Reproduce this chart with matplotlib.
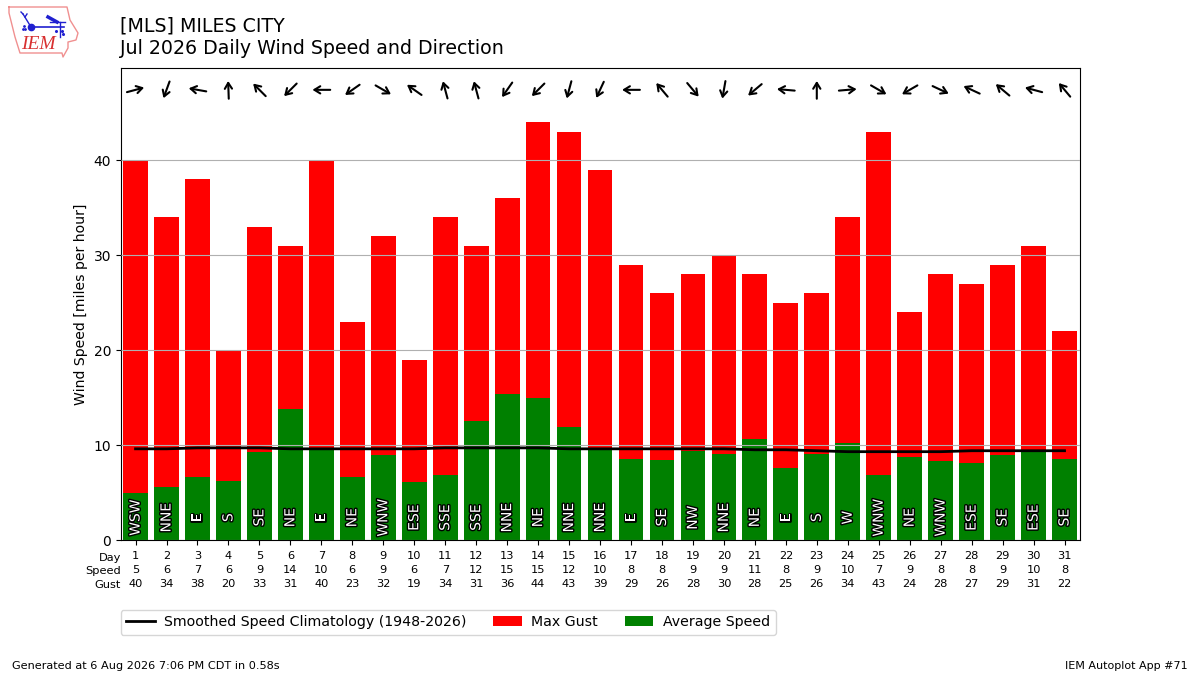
import math
import matplotlib
matplotlib.use("Agg")
import matplotlib.pyplot as plt
import matplotlib.patheffects as PathEffects
from matplotlib.transforms import offset_copy

days = list(range(1, 32))
avg_label = [5, 6, 7, 6, 9, 14, 10, 6, 9, 6, 7, 12, 15, 15, 12, 10, 8, 8, 9, 9, 11, 8, 9, 10, 7, 9, 8, 8, 9, 10, 8]
avg_speed = [4.9, 5.6, 6.6, 6.2, 9.3, 13.8, 9.7, 6.6, 8.9, 6.1, 6.8, 12.5, 15.4, 15.0, 11.9, 9.7,
             8.5, 8.4, 9.4, 9.1, 10.6, 7.6, 9.1, 10.2, 6.8, 8.7, 8.3, 8.1, 8.9, 9.5, 8.5]
max_gust = [40, 34, 38, 20, 33, 31, 40, 23, 32, 19, 34, 31, 36, 44, 43, 39,
            29, 26, 28, 30, 28, 25, 26, 34, 43, 24, 28, 27, 29, 31, 22]
dir_text = ["WSW", "NNE", "E", "S", "SE", "NE", "E", "NE", "WNW", "ESE", "SSE", "SSE", "NNE", "NE", "NNE", "NNE",
            "E", "SE", "NW", "NNE", "NE", "E", "S", "W", "WNW", "NE", "WNW", "ESE", "SE", "ESE", "SE"]
dir_deg = [255, 20, 100, 178, 135, 45, 90, 55, 300, 125, 165, 165, 35, 45, 15, 25,
           90, 140, 320, 10, 50, 95, 180, 265, 300, 60, 295, 115, 130, 105, 140]
climo = [9.6, 9.6, 9.7, 9.7, 9.7, 9.6, 9.6, 9.6, 9.6, 9.6, 9.7, 9.7, 9.7, 9.7, 9.6, 9.6,
         9.6, 9.6, 9.6, 9.6, 9.5, 9.5, 9.4, 9.3, 9.3, 9.3, 9.3, 9.4, 9.4, 9.4, 9.4]

# iowa outline for the logo, in logo pixels
logo_outline_x = [9, 67, 70, 78, 76, 68, 68, 63, 62, 20, 15, 9, 9]
logo_outline_y = [7, 7, 20, 33, 40, 42, 48, 57, 53, 53, 37, 13, 7]

fig = plt.figure(figsize=(12, 6.75), dpi=100)
ax = fig.add_axes([121 / 1200, 1 - 540 / 675, 959 / 1200, 472 / 675])

ax.bar(days, max_gust, width=0.8, color="r", label="Max Gust")
ax.bar(days, avg_speed, width=0.8, color="g", label="Average Speed")
ax.plot(days, climo, color="k", lw=2, label="Smoothed Speed Climatology (1948-2026)", zorder=5)
ax.grid(axis="y", color="#b0b0b0")
ax.set_axisbelow(False)

ax.set_xlim(0.53, 31.5)
ax.set_ylim(0, 49.7)

half_len = 6.4  # points
for d, txt, deg in zip(days, dir_text, dir_deg):
    t = ax.text(d, 2.35, txt, rotation=90, ha="center", va="center", color="white", fontsize=10, zorder=6)
    t.set_path_effects([PathEffects.withStroke(linewidth=2, foreground="black")])
    # arrow points the way the wind blows
    ang = math.radians(270 - deg)
    dx, dy = half_len * math.cos(ang), half_len * math.sin(ang)
    tip = offset_copy(ax.transData, fig, x=dx, y=dy, units="points")
    tail = offset_copy(ax.transData, fig, x=-dx, y=-dy, units="points")
    ax.annotate("", xy=(d, 47.4), xycoords=tip, xytext=(d, 47.4), textcoords=tail,
                arrowprops=dict(arrowstyle="->,head_length=0.42,head_width=0.26", lw=1.5, color="k",
                                shrinkA=0, shrinkB=0))

ax.set_yticks([0, 10, 20, 30, 40])
ax.set_ylabel("Wind Speed [miles per hour]", fontsize=10.1)
ax.set_xticks(days)
ax.set_xticklabels([f"{d}\n{s}\n{g}" for d, s, g in zip(days, avg_label, max_gust)], fontsize=8.2, linespacing=1.47)
ax.tick_params(axis="x", pad=4.6)
ax.text(0, -0.0265, "Day\nSpeed\nGust", transform=ax.transAxes, ha="right", va="top", fontsize=8.2, linespacing=1.47)

handles, labels = ax.get_legend_handles_labels()
order = [labels.index("Smoothed Speed Climatology (1948-2026)"), labels.index("Max Gust"), labels.index("Average Speed")]
fig.legend([handles[i] for i in order], [labels[i] for i in order], ncol=3, fontsize=10.2,
           handletextpad=0.66, columnspacing=1.92,
           loc="lower left", bbox_to_anchor=(120.5 / 1200, 1 - 635 / 675), borderaxespad=0)

fig.text(120 / 1200, 1 - 31 / 675, "[MLS] MILES CITY", fontsize=13.7)
fig.text(120 / 1200, 1 - 54.5 / 675, "Jul 2026 Daily Wind Speed and Direction", fontsize=13.7)
fig.text(12 / 1200, 1 - 669 / 675, "Generated at 6 Aug 2026 7:06 PM CDT in 0.58s", fontsize=8.15)
fig.text(1188 / 1200, 1 - 669 / 675, "IEM Autoplot App #71", fontsize=8, ha="right")

# logo
logo = fig.add_axes([0, 1 - 60 / 675, 85 / 1200, 60 / 675])
logo.set_xlim(0, 85)
logo.set_ylim(60, 0)
logo.axis("off")
blue = "#2020d0"
logo.plot(logo_outline_x, logo_outline_y, color="#f09090", lw=1)
logo.plot([31, 64], [27, 27], color=blue, lw=1.2)
logo.plot([31], [27], "o", color=blue, ms=4.5)
logo.plot([31, 23], [27, 14], color=blue, lw=1)
logo.plot([23, 21], [14, 12], color=blue, lw=1)
logo.plot([25, 27], [17, 14], color=blue, lw=1)
logo.plot([48, 57], [17, 22], color=blue, lw=2.5)
logo.plot([50, 65], [22, 22], color=blue, lw=1)
logo.plot([60, 60], [22, 37], color=blue, lw=1)
logo.plot([56, 62, 63], [31, 31, 34], "o", color=blue, ms=1.2)
logo.plot([23, 25, 24], [29, 29, 26], "o", color=blue, ms=1)
logo.text(21.5, 44.5, "IEM", color="#d83030", family="Liberation Serif", style="italic", fontsize=14, va="center")

fig.savefig("out.png", dpi=100)
